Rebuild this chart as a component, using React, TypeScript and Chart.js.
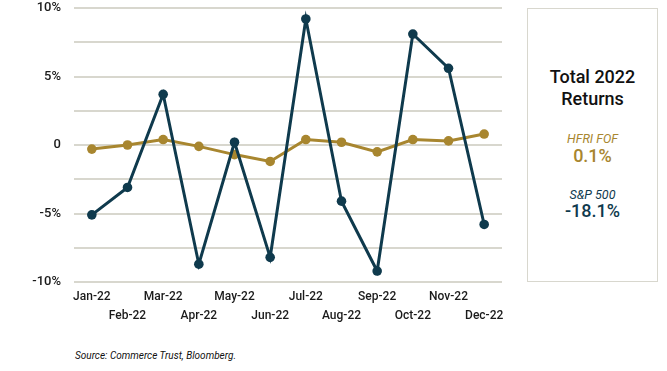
import React, { useEffect, useRef } from "react";
import { Chart, registerables } from "chart.js";

Chart.register(...registerables);

const months = ["Jan-22", "Feb-22", "Mar-22", "Apr-22", "May-22", "Jun-22", "Jul-22", "Aug-22", "Sep-22", "Oct-22", "Nov-22", "Dec-22"];
const sp500 = [-5.1, -3.1, 3.7, -8.7, 0.2, -8.2, 9.2, -4.1, -9.2, 8.1, 5.6, -5.8];
const hfriFof = [-0.3, 0.0, 0.4, -0.1, -0.7, -1.2, 0.4, 0.2, -0.5, 0.4, 0.3, 0.8];
const yTickValues = [10, 5, 0, -5, -10];
const yTickLabels = ["10%", "5%", "0", "-5%", "-10%"];

const TEAL = "#0f3a4d";
const GOLD = "#a8862f";
const GRID = "#d8d7ce";
const FONT = "Roboto, 'Liberation Sans', sans-serif";

const yLabelPlugin = {
  id: "yLabels",
  afterDraw(chart: any) {
    const ctx = chart.ctx;
    const y = chart.scales.y;
    ctx.save();
    ctx.font = `500 13px ${FONT}`;
    ctx.fillStyle = "#1a1a1a";
    ctx.textAlign = "right";
    ctx.textBaseline = "middle";
    yTickValues.forEach((v, i) => {
      ctx.fillText(yTickLabels[i], chart.chartArea.left - 13, y.getPixelForValue(v));
    });
    ctx.restore();
  },
};

export default function App() {
  const ref = useRef<HTMLCanvasElement | null>(null);
  useEffect(() => {
    if (!ref.current) return;
    const chart = new Chart(ref.current, {
      type: "line",
      data: {
        labels: months,
        datasets: [
          {
            label: "S&P 500",
            data: sp500,
            borderColor: TEAL,
            backgroundColor: TEAL,
            borderWidth: 3,
            pointRadius: 4.8,
            pointBorderWidth: 0,
            tension: 0,
          },
          {
            label: "HFRI FOF",
            data: hfriFof,
            borderColor: GOLD,
            backgroundColor: GOLD,
            borderWidth: 3,
            pointRadius: 4.8,
            pointBorderWidth: 0,
            tension: 0,
          },
        ],
      },
      plugins: [yLabelPlugin],
      options: {
        animation: false,
        responsive: false,
        maintainAspectRatio: false,
        layout: { padding: { top: 8, right: 18, left: 0, bottom: 0 } },
        plugins: { legend: { display: false }, tooltip: { enabled: false } },
        scales: {
          x: {
            offset: true,
            grid: { display: false, drawTicks: false },
            border: { display: false },
            afterFit: (s: any) => { s.height = 58; },
            ticks: {
              autoSkip: false,
              maxRotation: 0,
              minRotation: 0,
              padding: 5,
              color: "#1a1a1a",
              font: { family: FONT, size: 12, weight: 500, lineHeight: 1.6 },
              callback: (_v: any, i: number) => (i % 2 === 0 ? months[i] : ["", months[i]]),
            },
          },
          y: {
            min: -10,
            max: 10,
            grid: { color: GRID, lineWidth: 2, drawTicks: false },
            border: { display: false },
            afterFit: (s: any) => { s.width = 74; },
            ticks: { stepSize: 2.5, display: false },
          },
        },
      },
    });
    return () => chart.destroy();
  }, []);

  return (
    <div style={{ position: "absolute", left: 0, top: 0, width: 667, height: 371, background: "#fff", fontFamily: FONT, overflow: "hidden" }}>
      <canvas ref={ref} width={520} height={340} style={{ position: "absolute", left: 0, top: 0, width: 520, height: 340 }} />
      <div
        style={{
          position: "absolute",
          left: 527,
          top: 8,
          width: 131,
          height: 274,
          border: `1.5px solid ${GRID}`,
          boxSizing: "border-box",
          textAlign: "center",
        }}
      >
        <div style={{ position: "absolute", left: 0, right: 0, top: 57, fontSize: 18, lineHeight: "22px", fontWeight: 500, color: "#111" }}>
          Total 2022
          <br />
          Returns
        </div>
        <div style={{ position: "absolute", left: 0, right: 0, top: 122, fontSize: 12.5, lineHeight: "15px", fontStyle: "italic", color: GOLD }}>HFRI FOF</div>
        <div style={{ position: "absolute", left: 0, right: 0, top: 136, fontSize: 18, lineHeight: "22px", fontWeight: 500, color: GOLD }}>0.1%</div>
        <div style={{ position: "absolute", left: 0, right: 0, top: 178, fontSize: 12.5, lineHeight: "15px", fontStyle: "italic", color: TEAL }}>S&amp;P 500</div>
        <div style={{ position: "absolute", left: 0, right: 0, top: 191, fontSize: 18, lineHeight: "22px", fontWeight: 500, color: TEAL }}>-18.1%</div>
      </div>
      <div style={{ position: "absolute", left: 75, top: 349, fontSize: 10, lineHeight: "13px", fontStyle: "italic", color: "#111" }}>
        Source: Commerce Trust, Bloomberg.
      </div>
    </div>
  );
}
